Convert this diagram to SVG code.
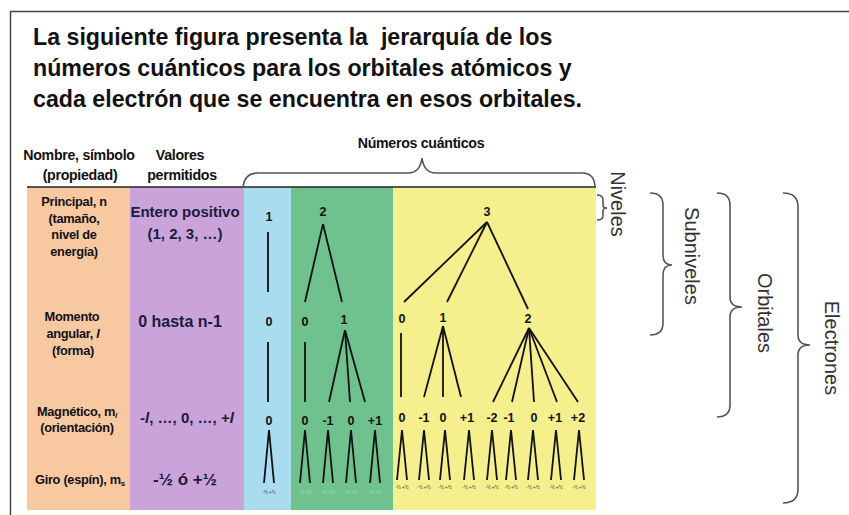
<svg xmlns="http://www.w3.org/2000/svg" width="849" height="515" viewBox="0 0 849 515">
<style>
.t{font-family:"Liberation Sans",Arial,sans-serif;font-weight:bold;fill:#111}
.title{font-size:23.2px}
.hd{font-size:14.2px;text-anchor:middle;letter-spacing:-0.3px}
.lbl{font-size:12.8px;text-anchor:middle;letter-spacing:-0.3px}
.val{font-size:15px;text-anchor:middle;fill:#1c1c3c}
.num{font-size:12.5px;text-anchor:middle}
.tiny{font-family:"Liberation Sans",Arial,sans-serif;font-size:4.5px;text-anchor:middle;fill:#333}
.tinyg{fill:#a8e0a8}
.side{font-family:"Liberation Sans",Arial,sans-serif;font-size:20px;text-anchor:middle;fill:#333}
.ln{stroke:#111;stroke-width:1.8;fill:none}
.br{stroke:#555;stroke-width:1.6;fill:none}
</style>
<rect x="0" y="0" width="849" height="515" fill="#fff"/>
<path d="M10.5,515 L10.5,11.5 L849,11.5" stroke="#444" stroke-width="1.5" fill="none"/>

<g id="title">
<text class="t title" x="33" y="45" style="white-space:pre">La siguiente figura presenta la  jerarquía de los</text>
<text class="t title" x="33" y="76">números cuánticos para los orbitales atómicos y</text>
<text class="t title" x="33" y="107">cada electrón que se encuentra en esos orbitales.</text>
</g>

<g id="columns">
<rect x="27" y="187" width="103" height="323" fill="#f8c9a0"/>
<rect x="130" y="187" width="114" height="323" fill="#c9a3d9"/>
<rect x="244" y="187" width="47" height="323" fill="#a9dcef"/>
<rect x="291" y="187" width="102" height="323" fill="#6fc28d"/>
<rect x="393" y="187" width="203" height="323" fill="#f6ef8e"/>
<line x1="27" y1="187" x2="596" y2="187" stroke="#222" stroke-width="1.5"/>
</g>

<g id="header">
<text class="t hd" x="79" y="160">Nombre, símbolo</text>
<text class="t hd" x="80" y="180">(propiedad)</text>
<text class="t hd" x="180" y="160">Valores</text>
<text class="t hd" x="182" y="180">permitidos</text>
<text class="t hd" x="421" y="148">Números cuánticos</text>
</g>

<g id="row-principal">
<text class="t lbl" x="74" y="206">Principal, n</text>
<text class="t lbl" x="74" y="223">(tamaño,</text>
<text class="t lbl" x="74" y="239">nivel de</text>
<text class="t lbl" x="74" y="256">energía)</text>
<text class="t val" x="185" y="217">Entero positivo</text>
<text class="t val" x="185" y="239">(1, 2, 3, …)</text>
</g>
<g id="row-angular">
<text class="t lbl" x="72" y="321">Momento</text>
<text class="t lbl" x="73" y="338">angular, <tspan font-style="italic">l</tspan></text>
<text class="t lbl" x="73" y="355">(forma)</text>
<text class="t val" x="180" y="327" style="font-size:16px">0 hasta n-1</text>
</g>
<g id="row-magnetico">
<text class="t lbl" x="77" y="416">Magnético, m<tspan font-size="8" dy="2" font-style="italic">l</tspan></text>
<text class="t lbl" x="77" y="432">(orientación)</text>
<text class="t val" x="187" y="423"><tspan font-style="italic">-l</tspan>, …, 0, …, +<tspan font-style="italic">l</tspan></text>
</g>
<g id="row-giro">
<text class="t lbl" x="80" y="484">Giro (espín), m<tspan font-size="8" dy="2">s</tspan></text>
<text class="t val" x="185" y="485" style="font-size:17px">-½ ó +½</text>
</g>

<g id="connectors">
<path class="br" d="M243,188 Q244,173 258,173 L408,173 Q420,173 422,158 Q424,173 436,173 L582,173 Q595,173 595,188"/>
<line class="ln" x1="268" y1="232" x2="268" y2="292"/>
<line class="ln" x1="268" y1="342" x2="268" y2="402"/>
<line class="ln" x1="323" y1="224" x2="305" y2="302"/>
<line class="ln" x1="323" y1="224" x2="342" y2="302"/>
<line class="ln" x1="305" y1="342" x2="305" y2="402"/>
<line class="ln" x1="345" y1="330" x2="329" y2="402"/>
<line class="ln" x1="345" y1="330" x2="350" y2="402"/>
<line class="ln" x1="345" y1="330" x2="365" y2="402"/>
<line class="ln" x1="487" y1="222" x2="404" y2="302"/>
<line class="ln" x1="487" y1="222" x2="447" y2="302"/>
<line class="ln" x1="487" y1="222" x2="528" y2="309"/>
<line class="ln" x1="401" y1="333" x2="401" y2="397"/>
<line class="ln" x1="443" y1="326" x2="424" y2="397"/>
<line class="ln" x1="443" y1="326" x2="443" y2="397"/>
<line class="ln" x1="443" y1="326" x2="461" y2="397"/>
<line class="ln" x1="529" y1="328" x2="493" y2="402"/>
<line class="ln" x1="529" y1="328" x2="512" y2="402"/>
<line class="ln" x1="529" y1="328" x2="534" y2="402"/>
<line class="ln" x1="529" y1="328" x2="557" y2="402"/>
<line class="ln" x1="529" y1="328" x2="578" y2="402"/>
<path class="ln" d="M264,483 L269,430 L274,483 M300,483 L305,430 L310,483 M323,483 L328,430 L333,483 M346,483 L351,430 L356,483 M370,483 L375,430 L380,483"/>
<path class="ln" d="M397,480 L402,430 L407,480 M419,480 L424,430 L429,480 M440,480 L445,430 L450,480 M464,480 L469,430 L474,480 M487,480 L492,430 L497,480 M506,480 L511,430 L516,480 M528,480 L533,430 L538,480 M551,480 L556,430 L561,480 M574,480 L579,430 L584,480"/>
<path class="br" d="M597,195 Q603,195 603,200 L603,205 Q603,208 607,208 Q603,208 603,211 L603,216 Q603,220 597,220"/>
<path class="br" d="M650,193 Q663,193 663,205 L663,255 Q663,265 672,265 Q663,265 663,275 L663,323 Q663,335 650,335"/>
<path class="br" d="M717,193 Q730,193 730,205 L730,297 Q730,307 742,307 Q730,307 730,317 L730,405 Q730,417 717,417"/>
<path class="br" d="M783,193 Q798,193 798,207 L798,335 Q798,345 810,345 Q798,345 798,355 L798,489 Q798,503 783,503"/>
</g>

<g id="n-level">
<text class="t num" x="269" y="221">1</text>
<text class="t num" x="323" y="216">2</text>
<text class="t num" x="487" y="216">3</text>
</g>
<g id="l-level">
<text class="t num" x="269" y="326">0</text>
<text class="t num" x="305" y="326">0</text>
<text class="t num" x="344" y="324">1</text>
<text class="t num" x="402" y="323">0</text>
<text class="t num" x="443" y="322">1</text>
<text class="t num" x="528" y="323">2</text>
</g>
<g id="ml-level">
<text class="t num" x="269" y="425">0</text>
<text class="t num" x="305" y="425">0</text>
<text class="t num" x="328" y="425">-1</text>
<text class="t num" x="351" y="425">0</text>
<text class="t num" x="375" y="425">+1</text>
<text class="t num" x="402" y="422">0</text>
<text class="t num" x="424" y="422">-1</text>
<text class="t num" x="443" y="422">0</text>
<text class="t num" x="467" y="422">+1</text>
<text class="t num" x="492" y="422">-2</text>
<text class="t num" x="509" y="422">-1</text>
<text class="t num" x="534" y="422">0</text>
<text class="t num" x="555" y="422">+1</text>
<text class="t num" x="578" y="422">+2</text>
</g>
<g id="ms-level">
<text class="tiny" x="269" y="494">-½ +½</text>
<text class="tiny tinyg" x="305" y="494">-½ +½</text>
<text class="tiny tinyg" x="328" y="494">-½ +½</text>
<text class="tiny tinyg" x="351" y="494">-½ +½</text>
<text class="tiny tinyg" x="375" y="494">-½ +½</text>
<text class="tiny" x="402" y="489">-½ +½</text>
<text class="tiny" x="424" y="489">-½ +½</text>
<text class="tiny" x="445" y="489">-½ +½</text>
<text class="tiny" x="469" y="489">-½ +½</text>
<text class="tiny" x="492" y="489">-½ +½</text>
<text class="tiny" x="511" y="489">-½ +½</text>
<text class="tiny" x="533" y="489">-½ +½</text>
<text class="tiny" x="556" y="489">-½ +½</text>
<text class="tiny" x="579" y="489">-½ +½</text>
</g>

<g id="side-labels">
<text class="side" transform="translate(611,204) rotate(90)">Niveles</text>
<text class="side" transform="translate(685,256) rotate(90)">Subniveles</text>
<text class="side" transform="translate(758,313) rotate(90)">Orbitales</text>
<text class="side" transform="translate(825,348) rotate(90)">Electrones</text>
</g>
</svg>
